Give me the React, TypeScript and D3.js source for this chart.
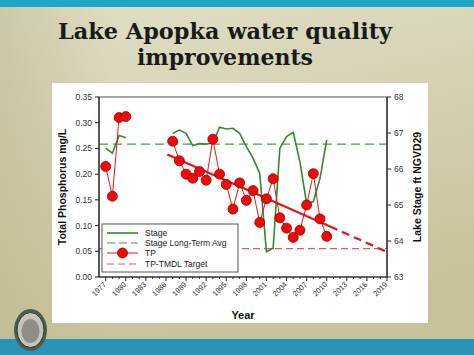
import React from "react";
import * as d3 from "d3";

const tpYears = [1977, 1978, 1979, 1980, 1987, 1988, 1989, 1990, 1991, 1992, 1993, 1994, 1995, 1996, 1997, 1998, 1999, 2000, 2001, 2002, 2003, 2004, 2005, 2006, 2007, 2008, 2009, 2010];
const tpValues = [0.215, 0.157, 0.31, 0.312, 0.264, 0.226, 0.2, 0.192, 0.205, 0.188, 0.268, 0.2, 0.18, 0.132, 0.183, 0.149, 0.168, 0.106, 0.152, 0.191, 0.115, 0.095, 0.077, 0.091, 0.14, 0.201, 0.113, 0.079];

const stageYears = [1977, 1978, 1979, 1980, 1987, 1988, 1989, 1990, 1991, 1992, 1993, 1994, 1995, 1996, 1997, 1998, 1999, 2000, 2001, 2002, 2003, 2004, 2005, 2006, 2007, 2008, 2009, 2010];
const stageValues = [66.58, 66.44, 66.93, 66.87, 66.99, 67.08, 66.99, 66.65, 66.71, 66.69, 66.72, 67.16, 67.11, 67.13, 66.99, 66.62, 66.3, 65.88, 63.7, 63.8, 66.57, 66.9, 67.02, 66.2, 65.05, 65.09, 65.74, 66.81];

const stageLongTermAvg = 66.69;
const tmdlTarget = 0.055;
const trendYears = [1986.2, 2010.5, 2019];
const trendValues = [0.238, 0.1, 0.049];

const xTickYears = [1977, 1980, 1983, 1986, 1989, 1992, 1995, 1998, 2001, 2004, 2007, 2010, 2013, 2016, 2019];
const leftTicks = [0, 0.05, 0.1, 0.15, 0.2, 0.25, 0.3, 0.35];
const rightTicks = [63, 64, 65, 66, 67, 68];
const legendItems = ["Stage", "Stage Long-Term Avg", "TP", "TP-TMDL Target"];

const W = 474, H = 355;
const X0 = 99, X1 = 387, Y0 = 97, Y1 = 277;

export default function App() {
  const x = d3.scaleLinear().domain([1976, 2019]).range([X0, X1]);
  const yL = d3.scaleLinear().domain([0, 0.35]).range([Y1, Y0]);
  const yR = d3.scaleLinear().domain([63, 68]).range([Y1, Y0]);

  const green = "#2e8b2e";
  const red = "#e01818";

  const segs = (years: number[], vals: number[]) => {
    const out: [number, number][][] = [];
    let cur: [number, number][] = [];
    years.forEach((yr, i) => {
      if (i > 0 && yr - years[i - 1] > 1) { out.push(cur); cur = []; }
      cur.push([yr, vals[i]]);
    });
    out.push(cur);
    return out;
  };

  const stageLine = d3.line<[number, number]>().x(d => x(d[0])).y(d => yR(d[1]));
  const tpLine = d3.line<[number, number]>().x(d => x(d[0])).y(d => yL(d[1]));
  const trendLine = d3.line<[number, number]>().x(d => x(d[0])).y(d => yL(d[1]));

  const tInterp = d3.scaleLinear().domain([trendYears[0], trendYears[2]]).range([trendValues[0], trendValues[2]]);
  const solidTrend: [number, number][] = [[trendYears[0], trendValues[0]], [trendYears[1], tInterp(trendYears[1])]];
  const dashTrend: [number, number][] = [[trendYears[1], tInterp(trendYears[1])], [trendYears[2], trendValues[2]]];

  const minorYears = d3.range(1977, 2020);
  const font = "Arial, 'Liberation Sans', sans-serif";

  return (
    <svg width={W} height={H} style={{ position: "absolute", left: 0, top: 0 }}>
      <defs>
        <linearGradient id="bg" x1="0" y1="0" x2="0.3" y2="1">
          <stop offset="0" stopColor="#e2dfc9" />
          <stop offset="1" stopColor="#c6c299" />
        </linearGradient>
        <linearGradient id="bgl" x1="0" y1="0" x2="1" y2="0">
          <stop offset="0" stopColor="#b8b488" stopOpacity={0.5} />
          <stop offset="0.25" stopColor="#b8b488" stopOpacity={0} />
        </linearGradient>
      </defs>
      <rect x={0} y={0} width={W} height={H} fill="url(#bg)" />
      <rect x={0} y={0} width={W} height={H} fill="url(#bgl)" />
      <rect x={0} y={0} width={W} height={7} fill="#19a8c5" />
      <rect x={0} y={339} width={W} height={16} fill="#2a93b6" />
      <text x={225} y={39} textAnchor="middle" fontFamily="'DejaVu Serif', serif" fontWeight="bold" fontSize={22} fill="#1a1a1a" textLength={334} lengthAdjust="spacingAndGlyphs">Lake Apopka water quality</text>
      <text x={225} y={65} textAnchor="middle" fontFamily="'DejaVu Serif', serif" fontWeight="bold" fontSize={22} fill="#1a1a1a" textLength={176} lengthAdjust="spacingAndGlyphs">improvements</text>

      <rect x={52} y={83} width={376} height={240} fill="#ffffff" />

      <line x1={X0} x2={X1} y1={yR(stageLongTermAvg)} y2={yR(stageLongTermAvg)} stroke="#4a9a4a" strokeWidth={1.2} strokeDasharray="9,5" />
      <line x1={X0} x2={X1} y1={yL(tmdlTarget)} y2={yL(tmdlTarget)} stroke="#e05a6a" strokeWidth={1.2} strokeDasharray="7,4" />

      {segs(stageYears, stageValues).map((s, i) => (
        <path key={"s" + i} d={stageLine(s) || ""} fill="none" stroke={green} strokeWidth={1.6} />
      ))}

      <path d={trendLine(solidTrend) || ""} fill="none" stroke={red} strokeWidth={2.2} />
      <path d={trendLine(dashTrend) || ""} fill="none" stroke={red} strokeWidth={2.2} strokeDasharray="8,5" />

      {segs(tpYears, tpValues).map((s, i) => (
        <path key={"t" + i} d={tpLine(s) || ""} fill="none" stroke={red} strokeWidth={1} />
      ))}
      {tpYears.map((yr, i) => (
        <circle key={"c" + i} cx={x(yr)} cy={yL(tpValues[i])} r={5} fill="#ee0a0a" stroke="#a00000" strokeWidth={0.8} />
      ))}

      <rect x={X0} y={Y0} width={X1 - X0} height={Y1 - Y0} fill="none" stroke="#555" strokeWidth={1} />
      <line x1={X0} x2={X0} y1={Y0} y2={Y1} stroke="#222" strokeWidth={1.2} />
      <line x1={X1} x2={X1} y1={Y0} y2={Y1} stroke="#222" strokeWidth={1.2} />
      <line x1={X0} x2={X1} y1={Y1} y2={Y1} stroke="#222" strokeWidth={1.2} />

      {leftTicks.map(t => (
        <g key={"l" + t}>
          <line x1={X0 - 4} x2={X0} y1={yL(t)} y2={yL(t)} stroke="#222" />
          <text x={X0 - 7} y={yL(t) + 3} textAnchor="end" fontFamily={font} fontSize={8.5} fill="#333">{t.toFixed(2)}</text>
        </g>
      ))}
      {rightTicks.map(t => (
        <g key={"r" + t}>
          <line x1={X1} x2={X1 + 4} y1={yR(t)} y2={yR(t)} stroke="#222" />
          <text x={X1 + 7} y={yR(t) + 3} textAnchor="start" fontFamily={font} fontSize={8.5} fill="#333">{t}</text>
        </g>
      ))}
      {minorYears.map(yr => (
        <line key={"m" + yr} x1={x(yr)} x2={x(yr)} y1={Y1} y2={Y1 + (xTickYears.includes(yr) ? 4 : 2)} stroke="#222" />
      ))}
      {xTickYears.map(yr => (
        <text key={"x" + yr} transform={`translate(${x(yr) + 1},${Y1 + 8}) rotate(-45)`} textAnchor="end" fontFamily={font} fontSize={7.5} fill="#333">{yr}</text>
      ))}

      <text transform={`translate(66,${(Y0 + Y1) / 2}) rotate(-90)`} textAnchor="middle" fontFamily={font} fontWeight="bold" fontSize={10.5} fill="#111">Total Phosphorus mg/L</text>
      <text transform={`translate(421,${(Y0 + Y1) / 2}) rotate(-90)`} textAnchor="middle" fontFamily={font} fontWeight="bold" fontSize={10.5} fill="#111">Lake Stage ft NGVD29</text>
      <text x={(X0 + X1) / 2} y={319} textAnchor="middle" fontFamily={font} fontWeight="bold" fontSize={11} fill="#111">Year</text>

      <g>
        <rect x={102} y={224} width={136} height={48} fill="#fff" stroke="#555" strokeWidth={1} />
        {legendItems.map((name, i) => {
          const ly = [233, 243, 253, 264][i];
          return (
            <g key={name}>
              {i === 0 && <line x1={107} x2={138} y1={ly} y2={ly} stroke={green} strokeWidth={1.6} />}
              {i === 1 && <line x1={107} x2={138} y1={ly} y2={ly} stroke="#4a9a4a" strokeWidth={1.2} strokeDasharray="8,4" />}
              {i === 2 && <g><line x1={107} x2={138} y1={ly} y2={ly} stroke={red} strokeWidth={1} /><circle cx={122.5} cy={ly} r={5} fill="#ee0a0a" stroke="#a00000" strokeWidth={0.8} /></g>}
              {i === 3 && <line x1={107} x2={138} y1={ly} y2={ly} stroke="#e05a6a" strokeWidth={1.2} strokeDasharray="7,4" />}
              <text x={145} y={ly + 3} fontFamily={font} fontSize={8.5} fill="#222">{name}</text>
            </g>
          );
        })}
      </g>

      <ellipse cx={30.5} cy={330} rx={16.5} ry={21} fill="#4f5c4c" />
      <ellipse cx={30.5} cy={330} rx={13.5} ry={17.5} fill="#c4c4bc" stroke="#2f3a2c" strokeWidth={1} />
      <ellipse cx={30.5} cy={331} rx={9} ry={12} fill="#8e8e86" />
    </svg>
  );
}
